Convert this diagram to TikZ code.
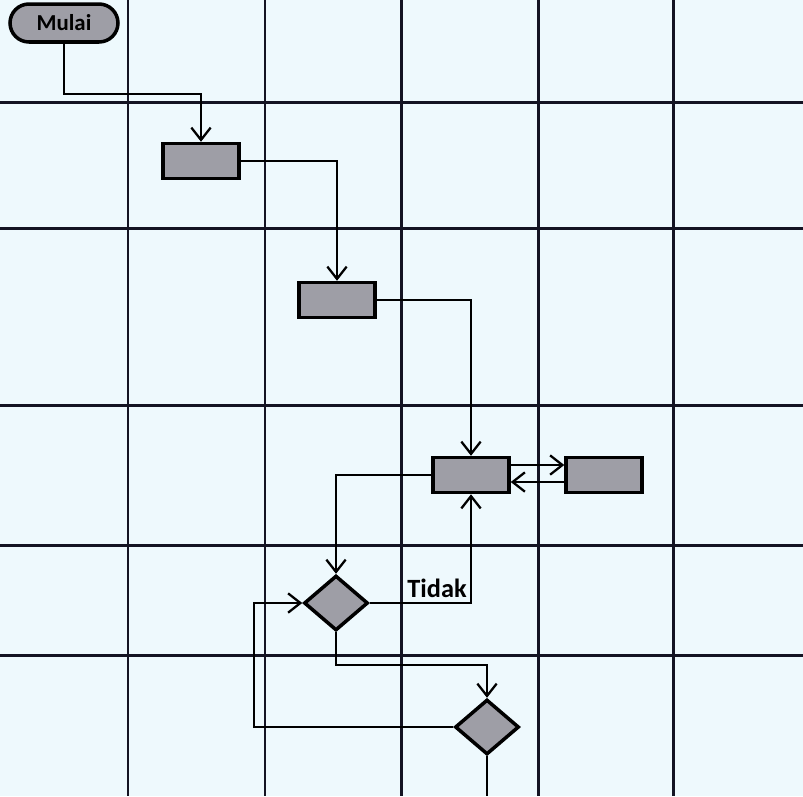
\documentclass[tikz,border=0pt]{standalone}
\usepackage{fontspec}
\setmainfont{Carlito}
\usepackage{tikz}
\usetikzlibrary{shapes.geometric, shapes.misc, arrows.meta, positioning}
\definecolor{paperbg}{RGB}{238,249,253}
\definecolor{gridcol}{RGB}{20,20,35}
\definecolor{boxfill}{RGB}{158,158,166}
\tikzset{
  basebox/.style={draw=black,line width=2pt,fill=boxfill,inner sep=0pt},
  startnode/.style={basebox,rounded rectangle,minimum width=2.16cm,minimum height=0.76cm,font=\fontsize{13}{15}\selectfont\bfseries},
  procnode/.style={basebox,rectangle,minimum width=1.52cm,minimum height=0.7cm},
  decnode/.style={basebox,diamond,minimum width=1.28cm,minimum height=1.1cm},
  gridline/.style={draw=gridcol,line width=1.7pt},
  arr/.style={-{Straight Barb[length=7pt,width=11pt,line width=1.3pt]},line width=1.3pt,color=black}
}
\begin{document}
\begin{tikzpicture}[x=0.02cm,y=-0.02cm]
  \useasboundingbox (0,0) rectangle (803,796);
  \fill[paperbg] (0,0) rectangle (803,796);
  % swimlane grid
  \foreach \gx in {128,265,401,538,673} \draw[gridline] (\gx,0) -- (\gx,796);
  \foreach \gy in {102,228,405,545,655} \draw[gridline] (0,\gy) -- (803,\gy);
  % nodes
  \node[startnode] (mulai) at (64,23) {Mulai};
  \node[procnode] (p1) at (201,161) {};
  \node[procnode] (p2) at (337,300) {};
  \node[procnode] (p3) at (471,475) {};
  \node[procnode] (p4) at (604,475) {};
  \node[decnode] (d1) at (336,603) {};
  \node[decnode] (d2) at (487,727) {};
  \coordinate (akhir) at (487,796);
  % connectors
  \draw[arr] (mulai.south) -- ++(0,50) -| (p1.north);
  \draw[arr] (p1.east) -| (p2.north);
  \draw[arr] (p2.east) -| (p3.north);
  \draw[arr] ([yshift=0.2cm]p3.east) -- ([yshift=0.2cm]p4.west);
  \draw[arr] ([yshift=-0.14cm]p4.west) -- ([yshift=-0.14cm]p3.east);
  \draw[arr] (p3.west) -| (d1.north);
  \draw[arr] (d1.east) -| (p3.south);
  \node[font=\fontsize{15}{17}\selectfont\bfseries] (tidak) at (437,588) {Tidak};
  \draw[arr] (d1.south) -- ++(0,33) -| (d2.north);
  \draw[arr] (d2.west) -- ++(-199,0) |- (d1.west);
  \draw[line width=1.3pt] (d2.south) -- (akhir);
\end{tikzpicture}
\end{document}
